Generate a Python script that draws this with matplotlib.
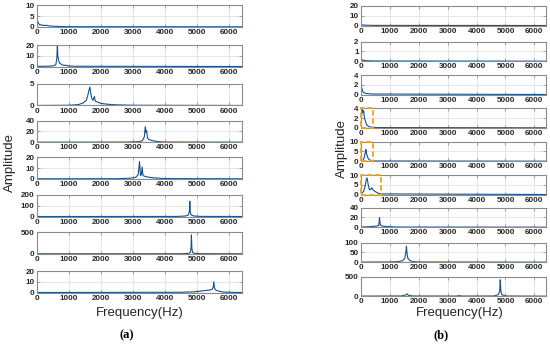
import matplotlib
matplotlib.use("Agg")
import matplotlib.pyplot as plt
from matplotlib.patches import Rectangle

plt.rcParams["font.family"] = ["Liberation Sans", "DejaVu Sans"]

# ---- data: (frequency Hz, amplitude) per subplot ----
# panel (a)
a1_f = [0, 10, 30, 60, 100, 150, 200, 300, 400, 500, 700, 1000, 6400]
a1_y = [6, 4, 2.5, 1.5, 0.8, 1.0, 0.6, 0.7, 0.4, 0.3, 0.15, 0.05, 0]
a2_f = [0, 400, 550, 600, 630, 645, 660, 690, 720, 800, 850, 900, 1000, 1200, 6400]
a2_y = [0.1, 0.3, 0.8, 2, 8, 20, 10, 5, 3, 1.5, 1, 1.2, 0.5, 0.2, 0]
a3_f = [0, 1000, 1300, 1450, 1550, 1600, 1630, 1660, 1690, 1720, 1760, 1800, 1830,
        1900, 2000, 2200, 2500, 3000, 6400]
a3_y = [0, 0.05, 0.2, 0.6, 1.2, 2.5, 3.5, 4.3, 2.8, 1.6, 1.2, 2.1, 1.0, 0.8, 0.5,
        0.3, 0.15, 0.05, 0]
a4_f = [0, 2800, 3200, 3300, 3360, 3390, 3410, 3430, 3460, 3500, 3600, 3800, 4000, 6400]
a4_y = [0, 0.2, 1, 3, 10, 29, 18, 22, 8, 5, 3, 1, 0.3, 0]
a5_f = [0, 2500, 2900, 3100, 3170, 3210, 3240, 3270, 3290, 3320, 3400, 3600, 4000, 6400]
a5_y = [0, 0.1, 0.5, 1.5, 4, 16, 3, 4, 11, 3, 2, 1, 0.2, 0]
a6_f = [0, 4400, 4650, 4740, 4770, 4780, 4795, 4820, 4900, 5100, 6400]
a6_y = [0, 0.5, 5, 15, 60, 140, 40, 15, 5, 1, 0]
a7_f = [0, 4500, 4750, 4800, 4820, 4830, 4845, 4870, 4950, 5200, 6400]
a7_y = [0, 1, 10, 40, 150, 440, 120, 30, 8, 2, 0]
a8_f = [0, 4500, 4900, 5100, 5200, 5300, 5400, 5480, 5510, 5530, 5550, 5600, 5700,
        5800, 6000, 6400]
a8_y = [0, 0.2, 0.6, 1.2, 1.6, 2, 2.2, 3, 5, 10, 4, 2, 1.2, 0.5, 0.2, 0]

# panel (b)
b1_f = [0, 10, 30, 80, 200, 500, 6400]
b1_y = [9, 3, 1, 0.5, 0.3, 0.1, 0]
b2_f = [0, 10, 30, 80, 200, 500, 6400]
b2_y = [1.9, 0.5, 0.2, 0.1, 0.05, 0.02, 0]
b3_f = [0, 15, 30, 60, 100, 200, 400, 6400]
b3_y = [3.6, 2.5, 1.5, 0.8, 0.4, 0.2, 0.1, 0]
b4_f = [0, 30, 60, 80, 100, 130, 170, 220, 300, 400, 600, 6400]
b4_y = [0.5, 2.5, 3.7, 3.2, 3.5, 2, 1.2, 0.5, 0.2, 0.1, 0.05, 0]
b5_f = [0, 80, 120, 160, 180, 200, 240, 280, 350, 400, 6400]
b5_y = [0, 0.5, 2, 4.5, 6, 4, 2, 1, 0.3, 0.1, 0]
b6_f = [0, 50, 100, 150, 190, 220, 260, 300, 340, 380, 420, 500, 600, 700, 6400]
b6_y = [0.3, 0.8, 1.5, 4, 7.5, 8.5, 5, 2.5, 2.5, 3.5, 2.5, 1.5, 0.7, 0.3, 0]
b7_f = [0, 300, 500, 600, 630, 650, 670, 700, 800, 1000, 1300, 6400]
b7_y = [0.3, 1, 2, 3, 6, 20, 6, 3, 2, 1, 0.3, 0]
b8_f = [0, 1000, 1300, 1450, 1520, 1560, 1580, 1600, 1630, 1700, 1800, 2000, 6400]
b8_y = [0.5, 1, 3, 8, 20, 50, 82, 45, 20, 8, 3, 1, 0]
b9_f = [0, 1400, 1550, 1600, 1650, 1800, 3300, 3400, 3500, 4600, 4750, 4800, 4820,
        4840, 4870, 5000, 6400]
b9_y = [2, 5, 30, 60, 25, 5, 3, 15, 3, 5, 40, 120, 420, 150, 40, 5, 0]

a_series = [(a1_f, a1_y), (a2_f, a2_y), (a3_f, a3_y), (a4_f, a4_y),
            (a5_f, a5_y), (a6_f, a6_y), (a7_f, a7_y), (a8_f, a8_y)]
a_yticks = [[0, 5, 10], [0, 10, 20], [0, 5], [0, 20, 40], [0, 10, 20],
            [0, 100, 200], [0, 500], [0, 10, 20]]
b_series = [(b1_f, b1_y), (b2_f, b2_y), (b3_f, b3_y), (b4_f, b4_y), (b5_f, b5_y),
            (b6_f, b6_y), (b7_f, b7_y), (b8_f, b8_y), (b9_f, b9_y)]
b_yticks = [[0, 10, 20], [0, 1, 2], [0, 2, 4], [0, 2, 4], [0, 5, 10],
            [0, 5, 10], [0, 20, 40], [0, 50, 100], [0, 500]]
# highlighted low-frequency windows in (b): subplot index -> upper frequency
b_boxes = {3: 400, 4: 400, 5: 700}

xticks = [0, 1000, 2000, 3000, 4000, 5000, 6000]

W, H = 550, 345
fig = plt.figure(figsize=(W / 100, H / 100), dpi=100)


def make_axes(x0, x1, top, h):
    return fig.add_axes([x0 / W, 1 - (top + h) / H, (x1 - x0) / W, h / H])


def style(ax, f, y, yt):
    ax.plot(f, y, color="#15508a", lw=0.8)
    ax.axhline(0, color="#4a90c8", lw=0.8)
    ax.set_xlim(0, 6400)
    ax.set_ylim(yt[0], yt[-1])
    ax.set_xticks(xticks)
    ax.set_yticks(yt)
    ax.grid(True, color="#dcdcdc", lw=0.5)
    ax.set_axisbelow(True)
    ax.tick_params(direction="in", length=2, width=0.5, top=True, right=True,
                   labelsize=5.8, pad=1.5, colors="#808080", labelcolor="#262626")
    for lab in ax.get_xticklabels() + ax.get_yticklabels():
        lab.set_fontweight("bold")
    for s in ax.spines.values():
        s.set_color("#8c8c8c")
        s.set_linewidth(0.8)


a_tops = [5.3, 45, 84, 120.7, 157.3, 195, 232.3, 271]
for i, ((f, y), yt) in enumerate(zip(a_series, a_yticks)):
    ax = make_axes(36.7, 241.7, a_tops[i], 21.5)
    style(ax, f, y, yt)

b_tops = [6, 41.7, 75, 108.3, 141.7, 175, 207.7, 242.7, 276.7]
for i, ((f, y), yt) in enumerate(zip(b_series, b_yticks)):
    ax = make_axes(360.7, 546, b_tops[i], 19.5)
    style(ax, f, y, yt)
    if i in b_boxes:
        ax.add_patch(Rectangle((15, yt[0]), b_boxes[i], (yt[-1] - yt[0]) * 0.99,
                               fill=False, ec="#f5a21b", lw=1.3, ls=(0, (3, 1.5)),
                               zorder=5, clip_on=False))

fig.text(10 / W, 1 - 163 / H, "Amplitude", rotation=90, ha="center", va="center",
         fontsize=9.5, color="#262626")
fig.text(341.7 / W, 1 - 148 / H, "Amplitude", rotation=90, ha="center", va="center",
         fontsize=9.5, color="#262626")
fig.text(140 / W, 1 - 312.7 / H, "Frequency(Hz)", ha="center", va="center",
         fontsize=9.5, color="#262626")
fig.text(460 / W, 1 - 313.3 / H, "Frequency(Hz)", ha="center", va="center",
         fontsize=9.5, color="#262626")
fig.text(127 / W, 1 - 335.5 / H, "(a)", ha="center", va="center", fontsize=9,
         fontweight="bold", family=["Liberation Serif", "DejaVu Serif"])
fig.text(440.7 / W, 1 - 335 / H, "(b)", ha="center", va="center", fontsize=9,
         fontweight="bold", family=["Liberation Serif", "DejaVu Serif"])

fig.savefig("out.png", dpi=100)
